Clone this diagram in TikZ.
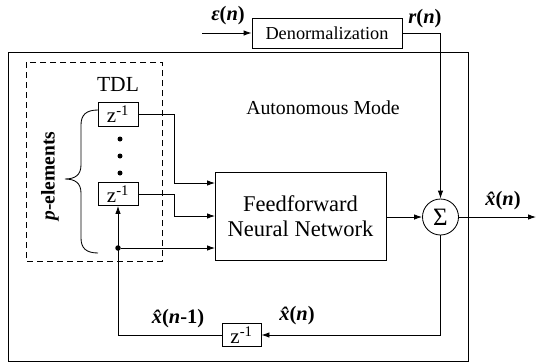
\documentclass[tikz,border=0pt]{standalone}
\usepackage{fontspec}
\setmainfont{Liberation Serif}
\usetikzlibrary{arrows.meta,calc}
\begin{document}
\begin{tikzpicture}[x=1pt,y=-1pt,
  line width=0.85pt,
  arr/.style={-{Latex[length=8pt,width=5.5pt]}},
  blk/.style={draw, inner sep=0pt, font=\fontsize{18.3}{20}\selectfont},
  zbox/.style={draw, inner sep=0pt, font=\fontsize{21}{22}\selectfont},
  lbl/.style={inner sep=0pt, font=\fontsize{20.5}{22}\selectfont\bfseries},
  txt/.style={inner sep=0pt, font=\fontsize{19.8}{22}\selectfont, align=center}]
\useasboundingbox (0,0) rectangle (536,362);
% outer box
\draw (8,52) rectangle (468,361);
% dashed TDL box
\draw[dashed, dash pattern=on 6pt off 4pt] (26,62) rectangle (162,261);
\node[txt, font=\fontsize{21.5}{22}\selectfont] (tdl) at (118,84) {TDL};
\node[txt] (auto) at (323,108) {Autonomous Mode};
% blocks
\node[blk, minimum width=150pt, minimum height=30pt] (denorm) at (327,33) {Denormalization};
\node[zbox, minimum width=40pt, minimum height=24pt] (z1) at (118,114) {z\textsuperscript{-1}};
\node[zbox, minimum width=40pt, minimum height=23pt] (z2) at (118,194) {z\textsuperscript{-1}};
\node[zbox, minimum width=39pt, minimum height=23pt] (z3) at (241.5,335) {z\textsuperscript{-1}};
\node[draw, inner sep=0pt, minimum width=171pt, minimum height=88pt, align=center, font=\fontsize{22.5}{25}\selectfont] (fnn) at (300.5,216) {Feedforward\\Neural Network};
\node[draw, circle, minimum size=36pt, inner sep=0pt, font=\fontsize{25}{25}\selectfont] (sigma) at (440.5,217) {Σ};
% dots
\foreach \yy/\nm in {139/d1,156/d2,173/d3}
  \node[circle, fill, inner sep=0pt, minimum size=5pt] (\nm) at (120,\yy) {};
\node[circle, fill, inner sep=0pt, minimum size=5.5pt] (dot) at (118,248) {};
% coordinates
\coordinate (ein) at (202,33);
\coordinate (c1) at (174,0);
\coordinate (f1) at (215,183);
\coordinate (f2) at (215,216);
\coordinate (f3) at (215,248);
\coordinate (out) at (536,217);
% labels
\node[lbl] (eps) at (228,16) {\itshape ε\upshape(\itshape n\upshape)};
\node[lbl] (rn) at (425,19) {\itshape r\upshape(\itshape n\upshape)};
\node[lbl] (xo) at (503,201) {\itshape \^{x}\upshape(\itshape n\upshape)};
\node[lbl] (xf) at (297,316) {\itshape \^{x}\upshape(\itshape n\upshape)};
\node[lbl] (xm) at (178,319) {\itshape \^{x}\upshape(\itshape n\upshape-1)};
\node[lbl, rotate=90, font=\fontsize{19.5}{22}\selectfont\bfseries] (pel) at (50,176) {\itshape p\upshape-elements};
% brace
\draw (98,110) .. controls (86,110) and (81,115) .. (81,125) -- (81,165)
  .. controls (81,175) and (75,179) .. (65,179)
  .. controls (75,179) and (81,183) .. (81,193) -- (81,238)
  .. controls (81,248) and (86,253) .. (98,253);
% connectors
\draw[arr] (ein) -- (denorm.west);
\draw[arr] (denorm.east) -| (sigma.north);
\draw[arr] (z1.east) -- (z1.east -| c1) |- (f1);
\draw[arr] (z2.east) -- (z2.east -| c1) |- (f2);
\draw[arr] (dot) -- (f3);
\draw[arr] (fnn.east |- sigma.west) -- (sigma.west);
\draw[arr] (sigma.east) -- (out);
\draw[arr] (sigma.south) |- (z3.east);
\draw[arr] (z3.west) -| (z2.south);
\end{tikzpicture}
\end{document}
